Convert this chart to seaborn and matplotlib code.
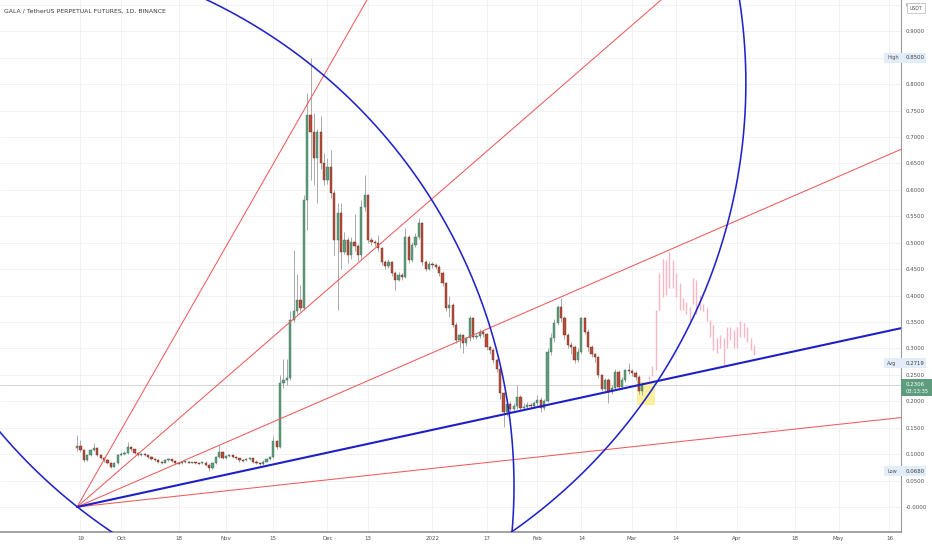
import numpy as np
import pandas as pd
import seaborn as sns
import matplotlib.pyplot as plt
from matplotlib.patches import Rectangle
from matplotlib.transforms import blended_transform_factory

sns.set_theme(style="white")
plt.rcParams['font.family'] = ['DejaVu Sans']

# daily candles, day 0 = 2021-09-18 (open of a candle = close of the one before)
start = pd.Timestamp('2021-09-18')
first_open = 0.111
closes = [
    0.115, 0.108, 0.089, 0.098, 0.108, 0.112, 0.098, 0.092, 0.088, 0.084,
    0.076, 0.083, 0.098, 0.101, 0.102, 0.114, 0.109, 0.103, 0.098, 0.101,
    0.098, 0.095, 0.090, 0.089, 0.086, 0.084, 0.089, 0.090, 0.087, 0.084,
    0.083, 0.085, 0.086, 0.084, 0.085, 0.084, 0.083, 0.083, 0.080, 0.073,
    0.083, 0.095, 0.104, 0.092, 0.096, 0.098, 0.094, 0.092, 0.089, 0.088,
    0.091, 0.092, 0.086, 0.083, 0.081, 0.086, 0.090, 0.094, 0.124, 0.114,
    0.235, 0.240, 0.245, 0.354, 0.370, 0.392, 0.377, 0.581, 0.742, 0.710,
    0.660, 0.710, 0.650, 0.619, 0.644, 0.594, 0.505, 0.556, 0.483, 0.505,
    0.477, 0.502, 0.493, 0.477, 0.568, 0.590, 0.505, 0.502, 0.499, 0.490,
    0.464, 0.456, 0.464, 0.442, 0.430, 0.439, 0.436, 0.511, 0.467, 0.496,
    0.511, 0.537, 0.464, 0.451, 0.460, 0.458, 0.455, 0.442, 0.423, 0.376,
    0.382, 0.344, 0.316, 0.325, 0.310, 0.319, 0.357, 0.322, 0.324, 0.332,
    0.327, 0.303, 0.297, 0.278, 0.262, 0.215, 0.180, 0.195, 0.185, 0.191,
    0.209, 0.187, 0.190, 0.193, 0.191, 0.196, 0.203, 0.187, 0.200, 0.294,
    0.319, 0.348, 0.379, 0.357, 0.325, 0.306, 0.303, 0.278, 0.294, 0.357,
    0.332, 0.302, 0.290, 0.284, 0.250, 0.224, 0.240, 0.218, 0.226, 0.256,
    0.227, 0.240, 0.259, 0.257, 0.254, 0.246, 0.220, 0.2306,
]
highs = [
    0.136, 0.127, 0.110, 0.100, 0.110, 0.121, 0.113, 0.100, 0.094, 0.090,
    0.086, 0.085, 0.100, 0.104, 0.106, 0.123, 0.116, 0.110, 0.104, 0.103,
    0.102, 0.099, 0.096, 0.092, 0.090, 0.087, 0.091, 0.092, 0.091, 0.088,
    0.086, 0.087, 0.088, 0.087, 0.086, 0.086, 0.085, 0.086, 0.087, 0.082,
    0.085, 0.097, 0.117, 0.106, 0.099, 0.101, 0.099, 0.096, 0.093, 0.091,
    0.093, 0.094, 0.093, 0.088, 0.085, 0.088, 0.092, 0.096, 0.134, 0.127,
    0.250, 0.280, 0.280, 0.370, 0.486, 0.440, 0.420, 0.590, 0.783, 0.850,
    0.745, 0.715, 0.740, 0.670, 0.660, 0.675, 0.600, 0.575, 0.575, 0.520,
    0.510, 0.510, 0.555, 0.498, 0.580, 0.628, 0.592, 0.510, 0.506, 0.515,
    0.492, 0.468, 0.470, 0.466, 0.446, 0.444, 0.442, 0.527, 0.515, 0.502,
    0.518, 0.547, 0.540, 0.468, 0.466, 0.464, 0.462, 0.458, 0.446, 0.426,
    0.400, 0.386, 0.350, 0.330, 0.328, 0.322, 0.362, 0.360, 0.328, 0.336,
    0.334, 0.330, 0.305, 0.300, 0.282, 0.265, 0.218, 0.205, 0.200, 0.196,
    0.230, 0.212, 0.196, 0.198, 0.197, 0.200, 0.212, 0.208, 0.204, 0.300,
    0.330, 0.355, 0.383, 0.395, 0.362, 0.330, 0.312, 0.306, 0.300, 0.360,
    0.360, 0.336, 0.306, 0.292, 0.286, 0.252, 0.244, 0.244, 0.230, 0.262,
    0.260, 0.246, 0.262, 0.272, 0.262, 0.258, 0.250, 0.236,
]
lows = [
    0.106, 0.104, 0.086, 0.087, 0.096, 0.106, 0.096, 0.090, 0.085, 0.082,
    0.073, 0.075, 0.081, 0.096, 0.099, 0.100, 0.106, 0.100, 0.096, 0.096,
    0.096, 0.093, 0.088, 0.087, 0.084, 0.082, 0.083, 0.087, 0.085, 0.082,
    0.081, 0.082, 0.083, 0.083, 0.083, 0.082, 0.081, 0.081, 0.078, 0.068,
    0.071, 0.082, 0.093, 0.090, 0.091, 0.094, 0.092, 0.090, 0.086, 0.085,
    0.087, 0.089, 0.084, 0.081, 0.079, 0.080, 0.085, 0.089, 0.092, 0.110,
    0.112, 0.225, 0.230, 0.240, 0.350, 0.365, 0.370, 0.372, 0.524, 0.619,
    0.610, 0.575, 0.640, 0.610, 0.612, 0.585, 0.476, 0.373, 0.450, 0.478,
    0.462, 0.470, 0.485, 0.465, 0.470, 0.560, 0.500, 0.495, 0.494, 0.485,
    0.458, 0.450, 0.452, 0.438, 0.410, 0.428, 0.430, 0.434, 0.462, 0.464,
    0.492, 0.508, 0.458, 0.446, 0.448, 0.452, 0.450, 0.438, 0.418, 0.370,
    0.360, 0.340, 0.310, 0.300, 0.291, 0.305, 0.315, 0.318, 0.318, 0.320,
    0.322, 0.298, 0.290, 0.272, 0.255, 0.205, 0.152, 0.172, 0.178, 0.180,
    0.186, 0.182, 0.183, 0.186, 0.186, 0.188, 0.192, 0.180, 0.184, 0.198,
    0.288, 0.312, 0.345, 0.350, 0.318, 0.300, 0.290, 0.272, 0.274, 0.290,
    0.328, 0.296, 0.284, 0.275, 0.244, 0.220, 0.218, 0.196, 0.214, 0.222,
    0.222, 0.224, 0.236, 0.252, 0.248, 0.240, 0.214, 0.212,
]

# faded projected bars (pink), from day 169 on
ghost_start = 169
ghost_lows = [0.240, 0.247, 0.259, 0.373, 0.398, 0.401, 0.414, 0.414, 0.398, 0.373,
              0.373, 0.366, 0.351, 0.385, 0.366, 0.373, 0.370, 0.351, 0.322, 0.297,
              0.291, 0.300, 0.269, 0.300, 0.316, 0.300, 0.300, 0.322, 0.322, 0.313,
              0.297, 0.288]
ghost_highs = [0.247, 0.266, 0.373, 0.442, 0.470, 0.467, 0.483, 0.467, 0.442, 0.423,
               0.395, 0.388, 0.379, 0.433, 0.430, 0.401, 0.385, 0.376, 0.354, 0.344,
               0.319, 0.326, 0.319, 0.341, 0.341, 0.335, 0.341, 0.351, 0.348, 0.341,
               0.319, 0.306]

# fan drawn from (day 0, price 0), slopes in price per day
fan_red_slopes = [0.000695, 0.00278, 0.00556, 0.0112]
fan_blue_slope = 0.00139

# circles: centre (day, price), radius in days and in price, visible angle span
arc_center_days = [99.0, -29.8, 36.0]
arc_center_prices = [0.802, 0.040, 0.802]
arc_radius_days = [159.5, 158.9, 161.6]
arc_radius_prices = [1.022, 1.018, 1.035]
arc_spans = [(180, 270), (90, 450), (90, 450)]

# highlighted zone
zone_days = (165.5, 170.8)
zone_prices = (0.193, 0.237)

tick_dates = ['2021-09-19', '2021-10-01', '2021-10-18', '2021-11-01', '2021-11-15',
              '2021-12-01', '2021-12-13', '2022-01-01', '2022-01-17', '2022-02-01',
              '2022-02-14', '2022-03-01', '2022-03-14', '2022-04-01', '2022-04-18',
              '2022-05-01', '2022-05-16']
tick_names = ['19', 'Oct', '18', 'Nov', '15', 'Dec', '13', '2022', '17', 'Feb',
              '14', 'Mar', '14', 'Apr', '18', 'May', '16']

price_ticks = [0.95, 0.90, 0.85, 0.80, 0.75, 0.70, 0.65, 0.60, 0.55, 0.50,
               0.45, 0.40, 0.35, 0.30, 0.25, 0.20, 0.15, 0.10, 0.05, 0.0]
price_names = ['0.9500', '0.9000', '0.8500', '0.8000', '0.7500', '0.7000', '0.6500',
               '0.6000', '0.5500', '0.5000', '0.4500', '0.4000', '0.3500', '0.3000',
               '0.2500', '0.2000', '0.1500', '0.1000', '0.0500', '-0.0000']

marker_names = ['High', 'Avg', 'Low']
marker_prices = [0.85, 0.2719, 0.068]
marker_texts = ['0.8500', '0.2719', '0.0680']
last_price = 0.2306
last_text = '0.2306'
countdown = '03:13:35'

# ---- build table
df = pd.DataFrame({'close': closes, 'high': highs, 'low': lows})
df['day'] = np.arange(len(df))
df['open'] = [first_open] + closes[:-1]
df['up'] = df['close'] >= df['open']

W, H = 932, 550
fig = plt.figure(figsize=(W / 100, H / 100), dpi=100)
ax = fig.add_axes([0, 18 / H, 901 / W, 532 / H])
ax.set_xlim(-22.75, 243.43)
ax.set_ylim(-0.0473, 0.9593)

# grid
ax.grid(True, color='#eef0f3', lw=0.6)
ax.set_axisbelow(True)

# highlighted zone and last price line
ax.add_patch(Rectangle((zone_days[0], zone_prices[0]), zone_days[1] - zone_days[0],
                       zone_prices[1] - zone_prices[0], facecolor='#fbf0a0',
                       edgecolor='none', zorder=1.5))
ax.axhline(last_price, color='#cfcfcf', lw=0.6, zorder=1)

# pink projection
g_days = np.arange(ghost_start, ghost_start + len(ghost_lows))
ax.vlines(g_days, ghost_lows, ghost_highs, color='#f5b7c5', lw=1.0, zorder=2)

# candles
ax.vlines(df['day'], df['low'], df['high'], color='#a9a9a9', lw=0.7, zorder=3)
body = (df['close'] - df['open']).to_numpy()
body = np.where(np.abs(body) < 0.002, np.where(body >= 0, 0.002, -0.002), body)
colors = np.where(df['up'], '#5e9e7e', '#b84c3a')
edges = np.where(df['up'], '#3f6f58', '#6e2c20')
ax.bar(df['day'], body, bottom=df['open'], width=0.66, color=colors,
       edgecolor=edges, linewidth=0.3, zorder=3.2)

# fan lines
fx = np.array([0.0, 260.0])
for s in fan_red_slopes:
    sns.lineplot(x=fx, y=s * fx, color='#ef5b5b', lw=0.75, ax=ax, zorder=4)
sns.lineplot(x=fx, y=fan_blue_slope * fx, color='#1f1fc8', lw=1.5, ax=ax, zorder=4.2)

# circles
for cx, cy, rx, ry, (t1, t2) in zip(arc_center_days, arc_center_prices,
                                     arc_radius_days, arc_radius_prices, arc_spans):
    t = np.radians(np.linspace(t1, t2, 720))
    ax.plot(cx + rx * np.cos(t), cy + ry * np.sin(t), color='#2024c8', lw=1.15,
            solid_capstyle='butt', zorder=4.1)

# axes cosmetics
for side in ['top', 'left']:
    ax.spines[side].set_visible(False)
ax.spines['bottom'].set_color('#9a9a9a')
ax.spines['bottom'].set_linewidth(1.3)
ax.spines['right'].set_color('#9a9a9a')
ax.spines['right'].set_linewidth(0.8)

xpos = [(pd.Timestamp(d) - start).days for d in tick_dates]
ax.set_xticks(xpos, tick_names)
ax.yaxis.tick_right()
ax.set_yticks(price_ticks, price_names)
ax.tick_params(axis='x', length=0, pad=3, labelsize=4, colors='#505050')
ax.tick_params(axis='y', length=0, pad=3.5, labelsize=3.9, colors='#505050')

# price-scale labels
trans = blended_transform_factory(fig.transFigure, ax.transData)
ppx = 1 / 528.5
for name, price, txt in zip(marker_names, marker_prices, marker_texts):
    ax.add_patch(Rectangle((884 / W, price - 5 * ppx), 42 / W, 10 * ppx, transform=trans,
                           facecolor='#e3ecf9', edgecolor='none', clip_on=False, zorder=6))
    ax.text(887 / W, price, name, transform=trans, fontsize=3.6, color='#505050',
            va='center', ha='left', zorder=7)
    ax.text(906 / W, price, txt, transform=trans, fontsize=3.9, color='#404040',
            va='center', ha='left', zorder=7)

ax.add_patch(Rectangle((901 / W, last_price - 11 * ppx), 31 / W, 17 * ppx, transform=trans,
                       facecolor='#5d9d7e', edgecolor='none', clip_on=False, zorder=6))
ax.text(906 / W, last_price + 0.4 * ppx, last_text, transform=trans, fontsize=3.9,
        color='white', va='center', ha='left', zorder=7)
ax.text(906 / W, last_price - 6 * ppx, countdown, transform=trans, fontsize=3.7,
        color='white', va='center', ha='left', zorder=7)

# currency box and title
fig.add_artist(Rectangle((907 / W, 1 - 13 / H), 18 / W, 10 / H, transform=fig.transFigure,
                         facecolor='white', edgecolor='#b8b8b8', lw=0.5, zorder=8))
fig.text(916 / W, 1 - 8 / H, 'USDT', fontsize=3.3, color='#505050', ha='center',
         va='center', zorder=9)
fig.text(4 / W, 1 - 10.7 / H, 'GALA / TetherUS PERPETUAL FUTURES, 1D, BINANCE',
         fontsize=4.4, color='#3a3a3a', ha='left', va='center')

fig.savefig('out.png', dpi=100)
